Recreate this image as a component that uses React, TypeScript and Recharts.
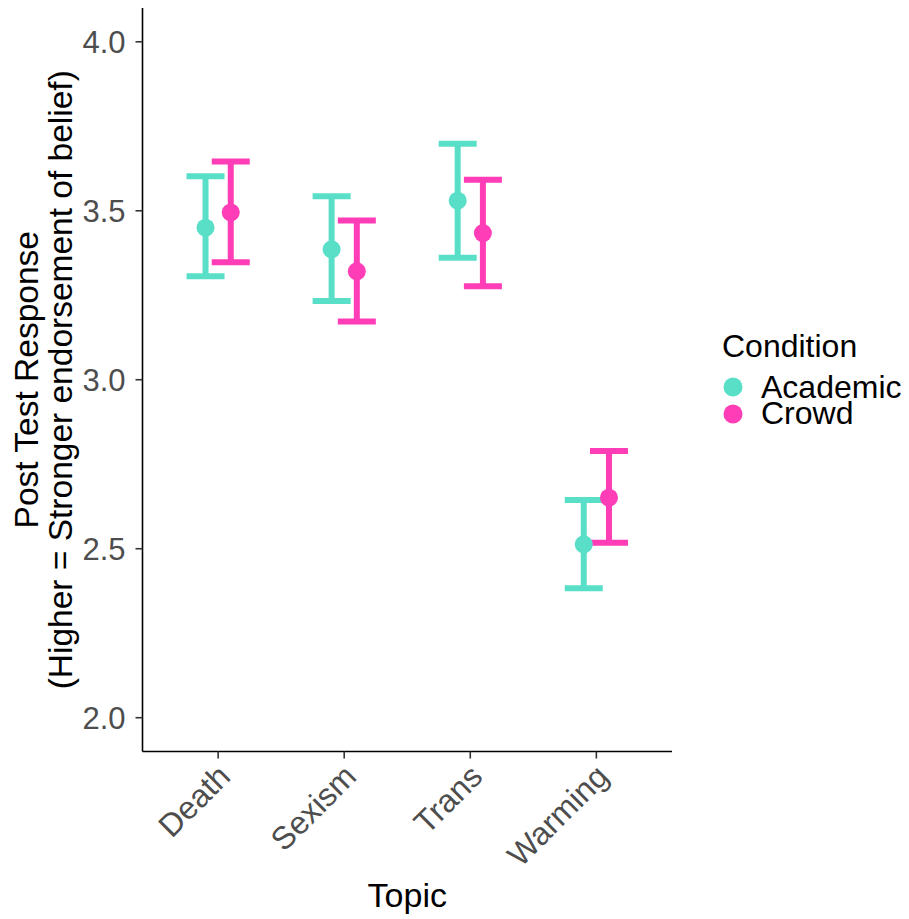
import { ScatterChart, Scatter, ErrorBar, XAxis, YAxis } from "recharts";

const topics = ["Death", "Sexism", "Trans", "Warming"];

// means and CI bounds
const academicMean = [3.45, 3.386, 3.53, 2.513];
const academicLow = [3.306, 3.233, 3.361, 2.383];
const academicHigh = [3.602, 3.543, 3.698, 2.644];

const crowdMean = [3.495, 3.321, 3.434, 2.651];
const crowdLow = [3.348, 3.172, 3.277, 2.518];
const crowdHigh = [3.646, 3.471, 3.592, 2.789];

const yTicks = [2.0, 2.5, 3.0, 3.5, 4.0];
const xTicks = [1, 2, 3, 4];

const TEAL = "#59DFC7";
const PINK = "#FF3DB7";
const FONT = "'Liberation Sans', Arial, sans-serif";
const DODGE = 0.1;

const build = (mean: number[], low: number[], high: number[], offset: number) =>
  topics.map((t, i) => ({
    topic: t,
    x: i + 1 + offset,
    y: mean[i],
    err: [mean[i] - low[i], high[i] - mean[i]],
  }));

const academicData = build(academicMean, academicLow, academicHigh, -DODGE);
const crowdData = build(crowdMean, crowdLow, crowdHigh, DODGE);

const TopicTick = (props: any) => {
  const { x, y, payload } = props;
  return (
    <g transform={`translate(${x + 14},${y + 18}) rotate(-45)`}>
      <text textAnchor="end" fill="#4D4D4D" fontSize={32} fontFamily={FONT}>
        {topics[payload.value - 1]}
      </text>
    </g>
  );
};

const Dot = (color: string) => (p: any) =>
  <circle cx={p.cx} cy={p.cy} r={9} fill={color} />;

export default function App() {
  return (
    <div style={{ position: "absolute", left: 0, top: 0, width: 909, height: 919, background: "#fff", fontFamily: FONT }}>
      <ScatterChart width={909} height={919} margin={{ top: 8, right: 237, bottom: 0, left: 0 }}>
        <XAxis
          type="number"
          dataKey="x"
          domain={[0.4, 4.6]}
          ticks={xTicks}
          allowDataOverflow
          height={167.5}
          tickSize={7}
          axisLine={{ stroke: "#000", strokeWidth: 1.6 }}
          tickLine={{ stroke: "#333", strokeWidth: 1.6 }}
          tick={<TopicTick />}
          interval={0}
          label={{
            content: ({ viewBox }: any) => (
              <text
                x={viewBox.x + viewBox.width / 2}
                y={viewBox.y + 155}
                textAnchor="middle"
                fontSize={34}
                fill="#000"
                fontFamily={FONT}
              >
                Topic
              </text>
            ),
          }}
        />
        <YAxis
          type="number"
          dataKey="y"
          domain={[1.9, 4.1]}
          ticks={yTicks}
          allowDataOverflow
          width={142.5}
          tickSize={7}
          tickMargin={10}
          tickFormatter={(v: number) => v.toFixed(1)}
          axisLine={{ stroke: "#000", strokeWidth: 1.6 }}
          tickLine={{ stroke: "#333", strokeWidth: 1.6 }}
          tick={{ fill: "#4D4D4D", fontSize: 31, fontFamily: FONT }}
          label={{
            content: ({ viewBox }: any) => {
              const cy = viewBox.y + viewBox.height / 2;
              return (
                <g fontSize={33.5} fill="#000" fontFamily={FONT}>
                  <text transform={`translate(38,${cy}) rotate(-90)`} textAnchor="middle">
                    Post Test Response
                  </text>
                  <text transform={`translate(72,${cy}) rotate(-90)`} textAnchor="middle">
                    (Higher = Stronger endorsement of belief)
                  </text>
                </g>
              );
            },
          }}
        />
        <Scatter name="Academic" data={academicData} fill={TEAL} shape={Dot(TEAL)} isAnimationActive={false}>
          <ErrorBar dataKey="err" direction="y" width={19} stroke={TEAL} strokeWidth={6} />
        </Scatter>
        <Scatter name="Crowd" data={crowdData} fill={PINK} shape={Dot(PINK)} isAnimationActive={false}>
          <ErrorBar dataKey="err" direction="y" width={19} stroke={PINK} strokeWidth={6} />
        </Scatter>
      </ScatterChart>
      <svg width={909} height={919} style={{ position: "absolute", left: 0, top: 0, pointerEvents: "none" }}>
        <g fontFamily={FONT} fontSize={32} fill="#000">
          <text x={722} y={357}>Condition</text>
          <circle cx={733} cy={387} r={9.5} fill={TEAL} />
          <text x={761} y={398}>Academic</text>
          <circle cx={733} cy={414} r={9.5} fill={PINK} />
          <text x={761} y={424}>Crowd</text>
        </g>
      </svg>
    </div>
  );
}
